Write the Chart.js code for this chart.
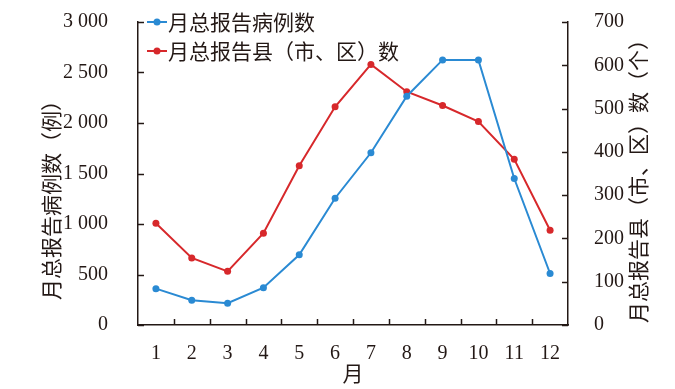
<!DOCTYPE html>
<html><head><meta charset="utf-8">
<script src="https://cdn.jsdelivr.net/npm/chart.js@4/dist/chart.umd.min.js"></script>
<style>html,body{margin:0;padding:0;background:#fff}#wrap{width:675px;height:389px}</style>
</head><body><div id="wrap"><canvas id="c" width="675" height="389"></canvas></div>
<script>
const months = ['1','2','3','4','5','6','7','8','9','10','11','12'];
const caseCounts = [360,245,215,370,695,1255,1705,2265,2625,2625,1450,510];
const countyCounts = [235,155,124,212,368,504,602,539,507,470,383,219];
const seriesNames = ['月总报告病例数','月总报告县（市、区）数'];
const xTitle = '月';
const leftTitle = '月总报告病例数（例）';
const rightTitle = '月总报告县（市、区）数（个）';

const BLUE = '#2a8ad3';
const RED = '#d7282b';
const INK = '#231815';
const FONT = '"Liberation Serif", serif';
const CJK = '"Noto Sans CJK SC", sans-serif';

function fmt(v){ return v >= 1000 ? Math.floor(v/1000) + ' ' + String(v%1000).padStart(3,'0') : String(v); }

const decor = {
  id: 'decor',
  afterDraw(chart){
    const ctx = chart.ctx;
    const xs = chart.scales.x, yl = chart.scales.yL, yr = chart.scales.yR;
    const a = chart.chartArea;
    ctx.save();
    ctx.strokeStyle = INK; ctx.lineWidth = 1.5;
    for (let i = 1; i < months.length; i++) {
      const x = Math.round((xs.getPixelForValue(i-1) + xs.getPixelForValue(i)) / 2) + 0.5;
      ctx.beginPath(); ctx.moveTo(x, a.bottom); ctx.lineTo(x, a.bottom - 6); ctx.stroke();
    }
    yl.ticks.forEach(t => {
      const y = Math.round(yl.getPixelForValue(t.value)) + 0.5;
      ctx.beginPath(); ctx.moveTo(a.left, y); ctx.lineTo(a.left + 6, y); ctx.stroke();
    });
    yr.ticks.forEach(t => {
      const y = Math.round(yr.getPixelForValue(t.value)) + 0.5;
      ctx.beginPath(); ctx.moveTo(a.right, y); ctx.lineTo(a.right - 6, y); ctx.stroke();
    });
    ctx.fillStyle = INK;
    ctx.font = '21px ' + CJK;
    ctx.textAlign = 'center'; ctx.textBaseline = 'middle';
    ctx.fillText(xTitle, (a.left + a.right)/2, 373);
    ctx.save(); ctx.translate(51, 195); ctx.rotate(-Math.PI/2); ctx.fillText(leftTitle, 0, 0); ctx.restore();
    ctx.save(); ctx.translate(638, 176); ctx.rotate(-Math.PI/2); ctx.fillText(rightTitle, 0, 0); ctx.restore();
    const cols = [BLUE, RED];
    ctx.textAlign = 'left';
    seriesNames.forEach((n, i) => {
      const y = 22 + i * 29;
      ctx.strokeStyle = cols[i]; ctx.lineWidth = 2;
      ctx.beginPath(); ctx.moveTo(147, y); ctx.lineTo(167, y); ctx.stroke();
      ctx.fillStyle = cols[i];
      ctx.beginPath(); ctx.arc(157, y, 3.5, 0, Math.PI*2); ctx.fill();
      ctx.fillStyle = INK;
      ctx.fillText(n, 168, y);
    });
    ctx.restore();
  }
};

function fixV(w){ return s => { s.width = w; s.paddingTop = 0; s.paddingBottom = 0; }; }

new Chart(document.getElementById('c'), {
  type: 'line',
  data: {
    labels: months,
    datasets: [
      { label: seriesNames[0], data: caseCounts, yAxisID: 'yL', borderColor: BLUE, backgroundColor: BLUE,
        borderWidth: 2, pointRadius: 3.5, pointBorderWidth: 0, tension: 0 },
      { label: seriesNames[1], data: countyCounts, yAxisID: 'yR', borderColor: RED, backgroundColor: RED,
        borderWidth: 2, pointRadius: 3.5, pointBorderWidth: 0, tension: 0 }
    ]
  },
  options: {
    responsive: false, animation: false, devicePixelRatio: 1,
    layout: { padding: { top: 22, left: 0, right: 0, bottom: 0 } },
    plugins: { legend: { display: false }, tooltip: { enabled: false } },
    scales: {
      x: {
        offset: true,
        grid: { display: false },
        border: { display: true, color: INK, width: 1.5 },
        ticks: { color: INK, font: { family: FONT, size: 20 }, padding: 9, maxRotation: 0 },
        afterFit(s){ s.height = 64; s.paddingLeft = 0; s.paddingRight = 0; }
      },
      yL: {
        position: 'left', min: 0, max: 3000,
        grid: { display: false },
        border: { display: true, color: INK, width: 1.5 },
        ticks: { stepSize: 500, color: INK, font: { family: FONT, size: 20 }, padding: 22, callback: v => fmt(v) },
        afterFit: fixV(138)
      },
      yR: {
        position: 'right', min: 0, max: 700,
        grid: { display: false },
        border: { display: true, color: INK, width: 1.5 },
        ticks: { stepSize: 100, color: INK, font: { family: FONT, size: 20 }, padding: 18 },
        afterFit: fixV(107)
      }
    }
  },
  plugins: [decor]
});
</script></body></html>
